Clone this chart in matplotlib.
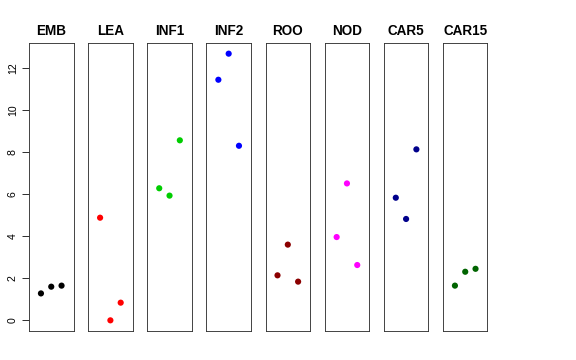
import matplotlib
matplotlib.use("Agg")
import matplotlib.pyplot as plt

plt.rcParams['font.family'] = ['Liberation Sans', 'DejaVu Sans']

groups = ["EMB", "LEA", "INF1", "INF2", "ROO", "NOD", "CAR5", "CAR15"]
colors = ["black", "red", "#00CD00", "blue", "#8B0000", "magenta", "#00008B", "#006400"]
emb = [1.28, 1.60, 1.65]
lea = [4.88, 0.0, 0.84]
inf1 = [6.28, 5.93, 8.56]
inf2 = [11.44, 12.68, 8.30]
roo = [2.14, 3.60, 1.84]
nod = [3.96, 6.51, 2.63]
car5 = [5.83, 4.82, 8.13]
car15 = [1.65, 2.31, 2.45]
values = [emb, lea, inf1, inf2, roo, nod, car5, car15]
yticks = [0, 2, 4, 6, 8, 10, 12]

W, H = 576, 360
fig = plt.figure(figsize=(W / 72, H / 72), dpi=72)

# common y range, R style 4% padding
lo = min(min(v) for v in values)
hi = max(max(v) for v in values)
pad = 0.04 * (hi - lo)

left0, step, pw = 29, 59.14, 44.5
top, bottom = 43, 331
for i, (g, c, v) in enumerate(zip(groups, colors, values)):
    ax = fig.add_axes([(left0 + i * step) / W, 1 - bottom / H, pw / W, (bottom - top) / H])
    ax.scatter([1, 2, 3], v, s=38, color=c, edgecolors='none', zorder=3)
    ax.set_xlim(-0.16, 4.16)
    ax.set_ylim(lo - pad, hi + pad)
    ax.set_xticks([])
    for sp in ax.spines.values():
        sp.set_linewidth(0.9)
        sp.set_color('#333333')
    ax.set_title(g, fontsize=13.5, fontweight='bold', pad=8)
    if i == 0:
        ax.set_yticks(yticks)
        ax.set_yticklabels([str(t) for t in yticks], rotation=90, va='center', fontsize=10.5)
        ax.tick_params(axis='y', length=7, width=0.8, pad=4)
    else:
        ax.set_yticks([])

fig.savefig("out.png", dpi=72)
